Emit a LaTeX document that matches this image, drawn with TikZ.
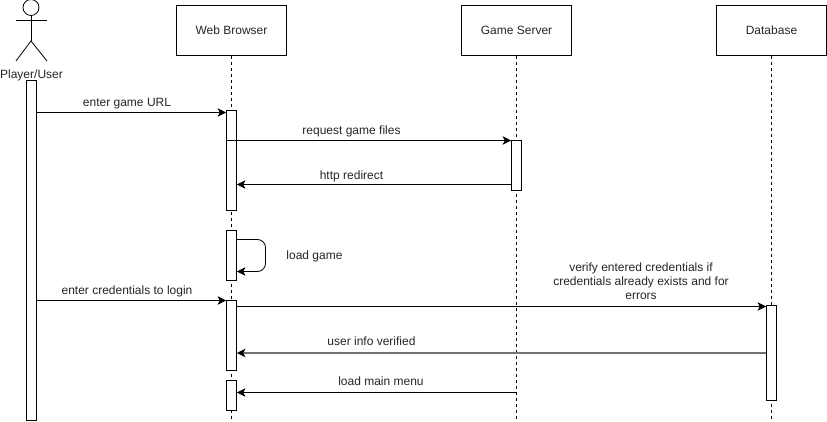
\documentclass[tikz,border=0pt]{standalone}
\usepackage{fontspec}
\setmainfont{Liberation Sans}
\usetikzlibrary{arrows.meta}
\tikzset{
  x=1pt,y=-1pt,
  party/.style={draw=black,fill=white,line width=0.8pt,minimum width=110pt,minimum height=50pt,inner sep=0pt,font=\fontsize{12}{14}\selectfont,text=black!85},
  act/.style={draw=black,fill=white,line width=0.8pt,minimum width=10pt,inner sep=0pt},
  life/.style={line width=0.8pt,dash pattern=on 3pt off 3pt},
  msg/.style={line width=0.8pt,-{Stealth[length=8.5pt,width=8.5pt,inset=2.2pt]}},
  lbl/.style={font=\fontsize{12}{14.2}\selectfont,text=black!85,inner sep=0pt,align=center,yshift=-1pt},
}
\begin{document}
\begin{tikzpicture}
\useasboundingbox (0,0) rectangle (827,422);
\fill[white] (0,0) rectangle (827,422);
% parties
\node[party] (web) at (231.5,30.5) {\raisebox{-1pt}{Web Browser}};
\node[party] (game) at (516.5,30.5) {\raisebox{-1pt}{Game Server}};
\node[party] (db) at (771.5,30.5) {\raisebox{-1pt}{Database}};
\coordinate (webend) at (231.5,420);
\coordinate (gameend) at (516.5,420);
\coordinate (dbend) at (771.5,420);
\draw[life] (web.south) -- (webend);
\draw[life] (game.south) -- (gameend);
\draw[life] (db.south) -- (dbend);
% actor
\begin{scope}[line width=0.8pt]
\node[draw=black,circle,line width=0.8pt,minimum size=16pt,inner sep=0pt] (head) at (31,7.5) {};
\coordinate (hip) at (31,41);
\coordinate (armL) at (16,20);
\coordinate (armR) at (47,20);
\coordinate (legL) at (16,61);
\coordinate (legR) at (47,61);
\draw (head.south) -- (hip);
\draw (armL) -- (armR);
\draw (legL) -- (hip) -- (legR);
\end{scope}
\node[lbl] (player) at (31.5,74.5) {Player/User};
% activations
\node[act,minimum height=340pt] (aUser) at (31.5,250.5) {};
\node[act,minimum height=100pt] (aW1) at (231.5,160.5) {};
\node[act,minimum height=50pt] (aG) at (516.5,165.5) {};
\node[act,minimum height=50pt] (aW2) at (231.5,255.5) {};
\node[act,minimum height=70pt] (aW3) at (231.5,335.5) {};
\node[act,minimum height=30pt] (aW4) at (231.5,395.5) {};
\node[act,minimum height=95pt] (aD) at (771.5,353) {};
% messages
\draw[msg] (aUser.east |- 0,112.5) -- (aW1.west |- 0,112.5);
\draw[line width=0.8pt] (aW1.west |- 0,140.5) -- (aW1.east |- 0,140.5);
\draw[msg] (aW1.east |- 0,140.5) -- (aG.west |- 0,140.5);
\draw[msg] (aG.west |- 0,184.5) -- (aW1.east |- 0,184.5);
\draw[msg,rounded corners=8pt] (aW2.east |- 0,239.5) -- (265.5,239.5) -- (265.5,271.5) -- (aW2.east |- 0,271.5);
\draw[msg] (aUser.east |- 0,300.5) -- (aW3.west |- 0,300.5);
\draw[msg] (aW3.east |- 0,306.5) -- (aD.west |- 0,306.5);
\draw[line width=1.5pt,draw=black!55,-{Stealth[length=8.5pt,width=8.5pt,inset=2.2pt,black]}] (aD.west |- 0,353) -- (aW3.east |- 0,353);
\draw[msg] (game.south |- 0,392.5) -- (aW4.east |- 0,392.5);
% labels
\node[lbl] (l1) at (127,102.5) {enter game URL};
\node[lbl] (l2) at (351.5,130.5) {request game files};
\node[lbl] (l3) at (351.5,175.5) {http redirect};
\node[lbl] (l4) at (314.5,255.5) {load game};
\node[lbl] (l5) at (127,290.5) {enter credentials to login};
\node[lbl] (l6) at (641,280.5) {verify entered credentials if\\credentials already exists and for\\errors};
\node[lbl] (l7) at (371.5,340.5) {user info verified};
\node[lbl] (l8) at (381,380.5) {load main menu};
\end{tikzpicture}
\end{document}
